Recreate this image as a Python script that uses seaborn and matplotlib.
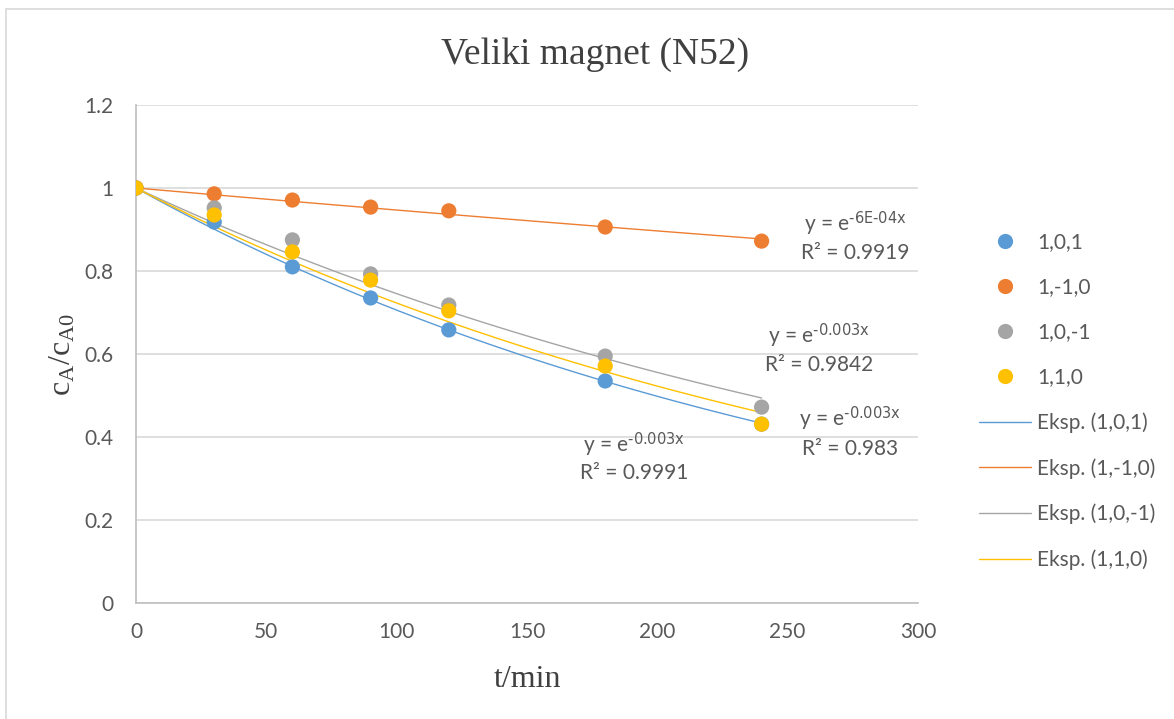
import numpy as np
import pandas as pd
import seaborn as sns
import matplotlib.pyplot as plt
from matplotlib.patches import Rectangle

# measured points, c_A/c_A0 vs t
t_min = [0, 30, 60, 90, 120, 180, 240]
series_names = ["1,0,1", "1,-1,0", "1,0,-1", "1,1,0"]
y_101 = [1.0, 0.918, 0.810, 0.735, 0.658, 0.535, 0.431]
y_1m10 = [1.0, 0.986, 0.971, 0.954, 0.945, 0.906, 0.872]
y_10m1 = [1.0, 0.952, 0.875, 0.793, 0.718, 0.595, 0.472]
y_110 = [1.0, 0.935, 0.846, 0.778, 0.704, 0.571, 0.431]
fit_eq = ["-0.003x", "-6E-04x", "-0.003x", "-0.003x"]
fit_r2 = ["0.9991", "0.9919", "0.9842", "0.983"]

colors = ["#5B9BD5", "#ED7D31", "#A5A5A5", "#FFC000"]
palette = dict(zip(series_names, colors))

sns.set_style("white")
plt.rcParams["font.family"] = ["Lato", "DejaVu Sans"]

rows = []
for name, ys in zip(series_names, [y_101, y_1m10, y_10m1, y_110]):
    for t, y in zip(t_min, ys):
        rows.append({"t": t, "c": y, "serija": name})
df = pd.DataFrame(rows)

# exponential trendline with intercept fixed at 1: y = exp(b t)
fit_rows = []
t_fit = np.linspace(0, 240, 100)
for name, grp in df.groupby("serija", sort=False):
    x = grp["t"].to_numpy(float)
    b = np.sum(x * np.log(grp["c"])) / np.sum(x ** 2)
    for t in t_fit:
        fit_rows.append({"t": t, "c": np.exp(b * t), "serija": name})
fit_df = pd.DataFrame(fit_rows)

fig = plt.figure(figsize=(11.74, 7.19), dpi=100)
ax = fig.add_axes([136 / 1174, 1 - 603 / 719, 782 / 1174, 498 / 719])

sns.lineplot(data=fit_df, x="t", y="c", hue="serija", palette=palette,
             hue_order=series_names, linewidth=1, ax=ax, zorder=2)
sns.scatterplot(data=df, x="t", y="c", hue="serija", palette=palette,
                hue_order=series_names, s=120, edgecolor="none", ax=ax, zorder=3)

ax.set_xlim(0, 300)
ax.set_ylim(0, 1.2)
ax.set_xticks(range(0, 301, 50))
ax.set_yticks(np.arange(0, 1.21, 0.2))
ax.set_yticklabels(["0", "0.2", "0.4", "0.6", "0.8", "1", "1.2"])
ax.tick_params(length=0, labelsize=15, labelcolor="#595959")
ax.tick_params(axis="x", pad=14)
ax.tick_params(axis="y", pad=16)
ax.yaxis.grid(True, color="#d9d9d9", linewidth=1.2)
ax.set_axisbelow(True)
for side in ["top", "right"]:
    ax.spines[side].set_visible(False)
for side in ["left", "bottom"]:
    ax.spines[side].set_color("#bfbfbf")
    ax.spines[side].set_linewidth(1.2)

ax.set_xlabel("t/min", family="Liberation Serif", fontsize=23, color="#404040", labelpad=16)
ax.set_ylabel(r"$\mathregular{c_A/c_{A0}}$", family="Liberation Serif", fontsize=23,
              color="#404040", labelpad=5)
fig.text(0.507, 1 - 55 / 719, "Veliki magnet (N52)", family="Liberation Serif", fontsize=27,
         color="#404040", ha="center", va="center")

# trendline labels
label_pos = [(191, 0.381, 0.313), (276, 0.913, 0.843), (262, 0.643, 0.574), (274, 0.445, 0.370)]
for (x, y1, y2), eq, r2 in zip(label_pos, fit_eq, fit_r2):
    ax.text(x, y1, r"y = e$\mathregular{^{\text{" + eq + "}}}$", ha="center", va="center",
            fontsize=15, color="#595959")
    ax.text(x, y2, "R² = " + r2, ha="center", va="center", fontsize=15, color="#595959")

handles, labels = ax.get_legend_handles_labels()
line_h = handles[:4]
pt_h = handles[4:]
ax.legend(pt_h + line_h, series_names + ["Eksp. (" + n + ")" for n in series_names],
          loc="center left", bbox_to_anchor=(0.818, 0.442), bbox_transform=fig.transFigure,
          frameon=False, fontsize=15, labelcolor="#595959", handlelength=2.5,
          handletextpad=0.3, labelspacing=1.2, markerscale=1.0)

# outer chart border (left and top visible)
fig.patches.append(Rectangle((6 / 1174, -0.1), 1.2, 1 - 9 / 719 + 0.1, transform=fig.transFigure,
                             fill=False, edgecolor="#d9d9d9", linewidth=1.2))

fig.savefig("out.png", dpi=100)
